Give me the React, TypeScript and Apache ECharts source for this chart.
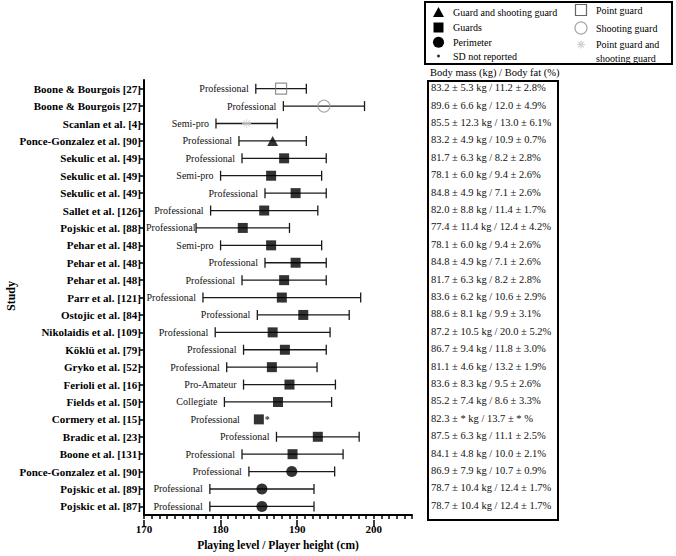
import React, { useEffect, useRef } from 'react';
import * as echarts from 'echarts';

const studies = [
  'Boone & Bourgois [27]', 'Boone & Bourgois [27]', 'Scanlan et al. [4]', 'Ponce-Gonzalez et al. [90]',
  'Sekulic et al. [49]', 'Sekulic et al. [49]', 'Sekulic et al. [49]', 'Sallet et al. [126]',
  'Pojskic et al. [88]', 'Pehar et al. [48]', 'Pehar et al. [48]', 'Pehar et al. [48]',
  'Parr et al. [121]', 'Ostojic et al. [84]', 'Nikolaidis et al. [109]', 'Köklü et al. [79]',
  'Gryko et al. [52]', 'Ferioli et al. [16]', 'Fields et al. [50]', 'Cormery et al. [15]',
  'Bradic et al. [23]', 'Boone et al. [131]', 'Ponce-Gonzalez et al. [90]', 'Pojskic et al. [89]',
  'Pojskic et al. [87]',
];
const levels = [
  'Professional', 'Professional', 'Semi-pro', 'Professional', 'Professional', 'Semi-pro', 'Professional',
  'Professional', 'Professional', 'Semi-pro', 'Professional', 'Professional', 'Professional', 'Professional',
  'Professional', 'Professional', 'Professional', 'Pro-Amateur', 'Collegiate', 'Professional', 'Professional',
  'Professional', 'Professional', 'Professional', 'Professional',
];
const heightMean = [
  187.9, 193.5, 183.4, 186.8, 188.3, 186.6, 189.8, 185.7, 182.9, 186.6, 189.8, 188.3, 188.0,
  190.8, 186.8, 188.4, 186.7, 189.0, 187.5, 185.0, 192.7, 189.4, 189.3, 185.4, 185.4,
];
const heightSD: (number | null)[] = [
  3.3, 5.3, 4.0, 4.4, 5.5, 6.6, 4.0, 7.0, 6.1, 6.6, 4.0, 5.5, 10.3,
  6.0, 7.5, 5.4, 5.9, 6.0, 7.0, null, 5.4, 6.6, 5.6, 6.8, 6.8,
];
// PG = point guard, SG = shooting guard, PGSG = point guard and shooting guard,
// GSG = guard and shooting guard, G = guards, P = perimeter
const positions = [
  'PG', 'SG', 'PGSG', 'GSG', 'G', 'G', 'G', 'G', 'G', 'G', 'G', 'G', 'G',
  'G', 'G', 'G', 'G', 'G', 'G', 'G', 'G', 'G', 'P', 'P', 'P',
];
const bodyComp = [
  '83.2 ± 5.3 kg / 11.2 ± 2.8%', '89.6 ± 6.6 kg / 12.0 ± 4.9%', '85.5 ± 12.3 kg / 13.0 ± 6.1%',
  '83.2 ± 4.9 kg / 10.9 ± 0.7%', '81.7 ± 6.3 kg / 8.2 ± 2.8%', '78.1 ± 6.0 kg / 9.4 ± 2.6%',
  '84.8 ± 4.9 kg / 7.1 ± 2.6%', '82.0 ± 8.8 kg / 11.4 ± 1.7%', '77.4 ± 11.4 kg / 12.4 ± 4.2%',
  '78.1 ± 6.0 kg / 9.4 ± 2.6%', '84.8 ± 4.9 kg / 7.1 ± 2.6%', '81.7 ± 6.3 kg / 8.2 ± 2.8%',
  '83.6 ± 6.2 kg / 10.6 ± 2.9%', '88.6 ± 8.1 kg / 9.9 ± 3.1%', '87.2 ± 10.5 kg / 20.0 ± 5.2%',
  '86.7 ± 9.4 kg / 11.8 ± 3.0%', '81.1 ± 4.6 kg / 13.2 ± 1.9%', '83.6 ± 8.3 kg / 9.5 ± 2.6%',
  '85.2 ± 7.4 kg / 8.6 ± 3.3%', '82.3 ± * kg / 13.7 ± * %', '87.5 ± 6.3 kg / 11.1 ± 2.5%',
  '84.1 ± 4.8 kg / 10.0 ± 2.1%', '86.9 ± 7.9 kg / 10.7 ± 0.9%', '78.7 ± 10.4 kg / 12.4 ± 1.7%',
  '78.7 ± 10.4 kg / 12.4 ± 1.7%',
];
const xMin = 170;
const xMax = 205;
const xMajorTicks = [170, 180, 190, 200];

const FONT = 'Liberation Serif, serif';
const ASTERISK =
  'path://M-0.1,-1L0.1,-1L0.1,1L-0.1,1Z M-1,-0.1L1,-0.1L1,0.1L-1,0.1Z ' +
  'M-0.778,-0.636L-0.636,-0.778L0.778,0.636L0.636,0.778Z M-0.636,0.778L-0.778,0.636L0.636,-0.778L0.778,-0.636Z';

let measureCtx: CanvasRenderingContext2D | null = null;
function textWidth(s: string, font: string): number {
  if (!measureCtx) measureCtx = document.createElement('canvas').getContext('2d');
  if (!measureCtx) return s.length * 4.5;
  measureCtx.font = font;
  return measureCtx.measureText(s).width;
}

function markerFor(pos: string): any {
  switch (pos) {
    case 'G':
      return { symbol: 'rect', symbolSize: 10, itemStyle: { color: '#000' } };
    case 'GSG':
      return { symbol: 'triangle', symbolSize: [11, 10], itemStyle: { color: '#000' } };
    case 'P':
      return { symbol: 'circle', symbolSize: 11, itemStyle: { color: '#000' } };
    case 'PG':
      return { symbol: 'rect', symbolSize: 11, itemStyle: { color: 'rgba(0,0,0,0)', borderColor: '#777', borderWidth: 1.2 } };
    case 'SG':
      return { symbol: 'circle', symbolSize: 12, itemStyle: { color: 'rgba(0,0,0,0)', borderColor: '#999', borderWidth: 1.2 } };
    default:
      return { symbol: ASTERISK, symbolSize: 9, itemStyle: { color: '#cfcfcf' } };
  }
}

function asteriskLines(cx: number, cy: number, r: number, color: string): any[] {
  const out: any[] = [];
  for (let k = 0; k < 4; k++) {
    const a = (k * Math.PI) / 4;
    out.push({
      type: 'line',
      shape: { x1: cx - r * Math.cos(a), y1: cy - r * Math.sin(a), x2: cx + r * Math.cos(a), y2: cy + r * Math.sin(a) },
      style: { stroke: color, lineWidth: 1.2 },
    });
  }
  return out;
}

export default function App() {
  const ref = useRef<HTMLDivElement>(null);
  useEffect(() => {
    if (!ref.current) return;
    const chart = echarts.init(ref.current, undefined, { renderer: 'svg' });
    const txt = (text: string, x: number, y: number, size = 10, extra: any = {}) => ({
      type: 'text',
      x,
      y,
      style: { text, fontSize: size, fontFamily: FONT, fill: '#000', verticalAlign: 'middle', align: 'left', ...extra },
    });

    const gridRect = { left: 144, right: 264, top: 80, bottom: 36 };

    const option: any = {
      animation: false,
      backgroundColor: '#fff',
      textStyle: { fontFamily: FONT },
      grid: [
        { ...gridRect },
        { ...gridRect },
      ],
      xAxis: [
        {
          type: 'value',
          gridIndex: 0,
          min: xMin,
          max: xMax,
          interval: 1,
          axisLine: { show: true, lineStyle: { color: '#000', width: 2 } },
          axisTick: { show: true, length: 4, lineStyle: { color: '#000', width: 1.5 } },
          axisLabel: {
            formatter: (v: number) => (xMajorTicks.indexOf(v) >= 0 ? String(v) : ''),
            fontFamily: FONT,
            fontWeight: 'bold',
            fontSize: 11,
            color: '#000',
            margin: 8,
          },
          splitLine: { show: false },
          name: 'Playing level / Player height (cm)',
          nameLocation: 'middle',
          nameGap: 22,
          nameTextStyle: { fontFamily: FONT, fontWeight: 'bold', fontSize: 11.5, color: '#000' },
        },
        {
          type: 'value',
          gridIndex: 1,
          min: xMin,
          max: xMax,
          interval: 10,
          axisLine: { show: false },
          axisTick: { show: true, length: 7, customValues: xMajorTicks, lineStyle: { color: '#000', width: 1.5 } },
          axisLabel: { show: false },
          splitLine: { show: false },
        },
      ],
      yAxis: [
        {
          type: 'category',
          gridIndex: 0,
          data: studies,
          inverse: true,
          axisLine: { show: true, lineStyle: { color: '#000', width: 2 } },
          axisTick: { show: true, length: 4, alignWithLabel: true, lineStyle: { color: '#000', width: 1.5 } },
          axisLabel: { interval: 0, fontFamily: FONT, fontWeight: 'bold', fontSize: 11, color: '#000', margin: 3 },
          splitLine: { show: false },
        },
        { type: 'value', gridIndex: 1, show: false },
      ],
      series: [
        {
          type: 'custom',
          xAxisIndex: 0,
          yAxisIndex: 0,
          clip: false,
          data: heightMean.map((m, i) => [m, i]),
          encode: { x: 0, y: 1 },
          renderItem: (params: any, api: any) => {
            const i = params.dataIndex;
            const m = heightMean[i];
            const sd = heightSD[i];
            const c = api.coord([m, i]);
            const y = c[1];
            const axisX = api.coord([xMin, i])[0];
            const children: any[] = [];
            let labelEnd: number;
            if (sd != null) {
              const lo = api.coord([m - sd, i])[0];
              const hi = api.coord([m + sd, i])[0];
              const ls = { stroke: '#1a1a1a', lineWidth: 1.3 };
              children.push({ type: 'line', shape: { x1: lo, y1: y, x2: hi, y2: y }, style: ls });
              children.push({ type: 'line', shape: { x1: lo, y1: y - 5, x2: lo, y2: y + 5 }, style: ls });
              children.push({ type: 'line', shape: { x1: hi, y1: y - 5, x2: hi, y2: y + 5 }, style: ls });
              labelEnd = lo - 7;
            } else {
              labelEnd = c[0] - 19;
            }
            const w = textWidth(levels[i], '10px "Liberation Serif"');
            labelEnd = Math.max(labelEnd, axisX + 2 + w);
            children.push({
              type: 'text',
              x: labelEnd,
              y: y,
              style: { text: levels[i], fontSize: 10, fontFamily: FONT, fill: '#111', align: 'right', verticalAlign: 'middle' },
            });
            return { type: 'group', children };
          },
          z: 2,
        },
        {
          type: 'scatter',
          xAxisIndex: 0,
          yAxisIndex: 0,
          data: heightMean.map((m, i) => ({
            value: [m, i],
            ...markerFor(positions[i]),
            label:
              heightSD[i] == null
                ? { show: true, position: 'right', distance: 1, formatter: '*', fontSize: 10, fontWeight: 'bold', fontFamily: FONT, color: '#000' }
                : { show: false },
          })),
          z: 3,
        },
        {
          type: 'custom',
          xAxisIndex: 0,
          yAxisIndex: 0,
          clip: false,
          data: bodyComp.map((_, i) => [xMin, i]),
          encode: { x: 0, y: 1 },
          renderItem: (params: any, api: any) => {
            const i = params.dataIndex;
            const c = api.coord([xMin, i]);
            return {
              type: 'text',
              x: 431,
              y: c[1] - 1,
              style: { text: bodyComp[i], fontSize: 10.5, fontFamily: FONT, fill: '#111', align: 'left', verticalAlign: 'middle' },
            };
          },
        },
      ],
      graphic: [
        { type: 'rect', shape: { x: 425, y: 2, width: 247, height: 62 }, style: { fill: 'none', stroke: '#000', lineWidth: 2 } },
        { type: 'polygon', shape: { points: [[438.5, 7], [444, 17], [433, 17]] }, style: { fill: '#000' } },
        { type: 'rect', shape: { x: 433.5, y: 22.5, width: 10, height: 10 }, style: { fill: '#000' } },
        { type: 'circle', shape: { cx: 438.5, cy: 42.3, r: 5.5 }, style: { fill: '#000' } },
        { type: 'circle', shape: { cx: 438.5, cy: 56, r: 1.4 }, style: { fill: '#222' } },
        txt('Guard and shooting guard', 453, 12.3),
        txt('Guards', 453, 27.3),
        txt('Perimeter', 453, 42.3),
        txt('SD not reported', 453, 56),
        { type: 'rect', shape: { x: 575.5, y: 4.5, width: 11, height: 11 }, style: { fill: 'none', stroke: '#666', lineWidth: 1.2 } },
        { type: 'circle', shape: { cx: 581, cy: 28, r: 6 }, style: { fill: 'none', stroke: '#aaa', lineWidth: 1.2 } },
        { type: 'group', children: asteriskLines(581, 44.5, 4, '#cfcfcf') },
        txt('Point guard', 596, 10),
        txt('Shooting guard', 596, 28),
        txt('Point guard and', 596, 44.5),
        txt('shooting guard', 596, 58),
        txt('Body mass (kg) / Body fat (%)', 430, 72, 10.5),
        { type: 'rect', shape: { x: 428, y: 81, width: 130, height: 439 }, style: { fill: 'none', stroke: '#000', lineWidth: 2 } },
        {
          type: 'text',
          x: 11,
          y: 296,
          rotation: Math.PI / 2,
          style: { text: 'Study', fontSize: 12, fontWeight: 'bold', fontFamily: FONT, fill: '#000', align: 'center', verticalAlign: 'middle' },
        },
      ],
    };
    chart.setOption(option);
    return () => chart.dispose();
  }, []);
  return <div ref={ref} style={{ width: 676, height: 556, position: 'absolute', left: 0, top: 0 }} />;
}
